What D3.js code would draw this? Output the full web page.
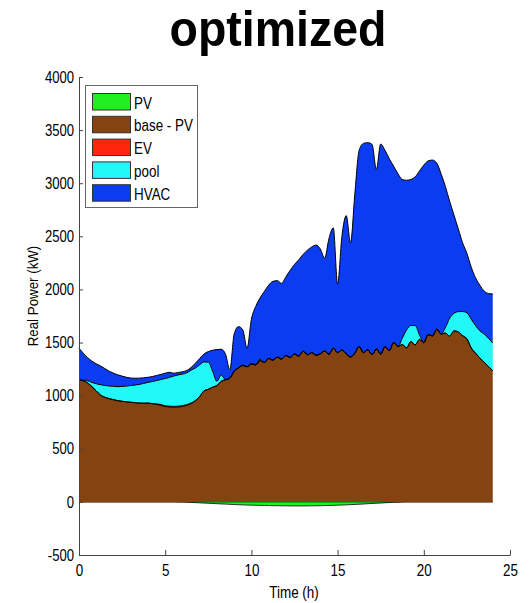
<!doctype html>
<html>
<head>
<meta charset="utf-8">
<script src="https://d3js.org/d3.v7.min.js"></script>
<style>
    body { margin: 0; background: #fff; }
    svg text { font-family: "Liberation Sans", Arial, Helvetica, sans-serif; }
</style>
</head>
<body>
<svg width="529" height="603"></svg>
<script>

    // time of day (h)
    var hours = [
        0, 0.25, 0.5, 0.75, 1, 1.25, 1.5, 1.75,
        2, 2.25, 2.5, 2.75, 3, 3.25, 3.5, 3.75,
        4, 4.25, 4.5, 4.75, 5, 5.25, 5.5, 5.75,
        6, 6.25, 6.5, 6.75, 7, 7.25, 7.5, 7.75,
        8, 8.25, 8.5, 8.75, 9, 9.25, 9.5, 9.75,
        10, 10.25, 10.5, 10.75, 11, 11.25, 11.5, 11.75,
        12, 12.25, 12.5, 12.75, 13, 13.25, 13.5, 13.75,
        14, 14.25, 14.5, 14.75, 15, 15.25, 15.5, 15.75,
        16, 16.25, 16.5, 16.75, 17, 17.25, 17.5, 17.75,
        18, 18.25, 18.5, 18.75, 19, 19.25, 19.5, 19.75,
        20, 20.25, 20.5, 20.75, 21, 21.25, 21.5, 21.75,
        22, 22.25, 22.5, 22.75, 23, 23.25, 23.5, 23.75,
        24];

    // kW per layer
    var pv = [
        0, 0, 0, 0, 0, 0, 0, 0,
        0, 0, 0, 0, 0, 0, 0, 0,
        0, 0, 0, 0, 0, 0, 0, -1,
        -2, -3, -5, -7, -9, -11, -13, -15,
        -17, -19, -21, -23, -25, -27, -28, -30,
        -31, -32, -33, -34, -35, -36, -36, -37,
        -37, -38, -38, -38, -38, -38, -37, -37,
        -36, -35, -34, -33, -31, -30, -28, -26,
        -24, -22, -20, -17, -15, -13, -11, -8,
        -6, -4, -3, -1, 0, 0, 0, 0,
        0, 0, 0, 0, 0, 0, 0, 0,
        0, 0, 0, 0, 0, 0, 0, 0,
        0];

    var basePV = [
        1148, 1140, 1120, 1085, 1045, 1005, 985, 972,
        962, 953, 947, 942, 938, 934, 930, 929,
        930, 925, 918, 908, 897, 893, 891, 893,
        898, 908, 925, 950, 990, 1045, 1060, 1080,
        1095, 1135, 1150, 1165, 1230, 1262, 1285, 1272,
        1300, 1290, 1330, 1312, 1350, 1335, 1362, 1345,
        1378, 1360, 1392, 1372, 1420, 1385, 1405, 1380,
        1395, 1420, 1390, 1446, 1405, 1430, 1395, 1365,
        1400, 1462, 1405, 1432, 1385, 1440, 1392, 1462,
        1425, 1500, 1462, 1482, 1450, 1510, 1478, 1530,
        1500, 1575, 1562, 1625, 1580, 1590, 1560, 1610,
        1600, 1565, 1535, 1450, 1400, 1355, 1315, 1275,
        1235];

    var ev = [
        0, 0, 0, 0, 0, 0, 0, 0,
        0, 0, 0, 0, 0, 0, 0, 0,
        0, 0, 5, 8, 8, 8, 8, 8,
        8, 8, 6, 5, 3, 0, 0, 0,
        0, 0, 0, 0, 0, 0, 0, 0,
        0, 0, 0, 0, 0, 0, 0, 0,
        0, 0, 0, 0, 0, 0, 0, 0,
        0, 0, 0, 0, 0, 0, 0, 0,
        0, 0, 0, 0, 0, 0, 0, 0,
        0, 0, 0, 0, 0, 0, 0, 0,
        0, 0, 0, 0, 0, 0, 0, 0,
        0, 0, 0, 0, 0, 0, 0, 0,
        0];

    var pool = [
        0, 6, 20, 40, 67, 98, 111, 119,
        126, 132, 140, 148, 157, 166, 176, 186,
        195, 208, 219, 236, 257, 271, 286, 294,
        297, 299, 309, 305, 297, 273, 255, 150,
        40, 60, 0, 0, 0, 0, 0, 0,
        0, 0, 15, 0, 0, 0, 0, 0,
        0, 0, 0, 0, 0, 0, 0, 0,
        0, 0, 0, 0, 0, 0, 0, 0,
        0, 0, 0, 0, 0, 0, 0, 0,
        0, 0, 0, 58, 169, 150, 182, 42,
        0, 0, 0, 0, 0, 50, 169, 165,
        191, 227, 245, 270, 260, 255, 265, 265,
        260];

    var hvac = [
        298, 254, 218, 200, 188, 177, 159, 139,
        124, 111, 97, 83, 71, 64, 59, 53,
        48, 47, 48, 48, 50, 48, 26, 23,
        22, 22, 25, 45, 60, 74, 100, 198,
        299, 242, 240, 77, 350, 388, 335, 174,
        420, 550, 575, 668, 690, 741, 721, 713,
        742, 820, 843, 908, 910, 985, 995, 1038,
        985, 874, 1090, 1134, 645, 1070, 1300, 1075,
        1500, 1848, 1970, 1950, 1980, 1690, 1977, 1848,
        1805, 1660, 1628, 1495, 1409, 1375, 1400, 1543,
        1670, 1635, 1656, 1565, 1510, 1330, 1101, 925,
        779, 648, 560, 490, 450, 430, 405, 422,
        463];

    var legendNames = ["PV", "base - PV", "EV", "pool", "HVAC"];
    var colors = ["#20ee20", "#844311", "#ff260a", "#22f8f8", "#0b3cf2"];
    var yTicks = [-500, 0, 500, 1000, 1500, 2000, 2500, 3000, 3500, 4000];
    var xTicks = [0, 5, 10, 15, 20, 25];

    var svg = d3.select("svg");

    var x = d3.scaleLinear().domain([0, 25]).range([79, 510]),
        y = d3.scaleLinear().domain([-500, 4000]).range([555, 77]);

    var rows = hours.map(function(t, i) {
        return {t: t, pv: pv[i], base: basePV[i], ev: ev[i], pool: pool[i], hvac: hvac[i]};
    });

    var stack = d3.stack().keys(["base", "ev", "pool", "hvac"]);
    var layers = stack(rows);

    var area = d3.area()
        .curve(d3.curveMonotoneX)
        .x(function(d) { return x(d.data.t); })
        .y0(function(d) { return y(d[0]); })
        .y1(function(d) { return y(d[1]); });

    var topLine = d3.line()
        .curve(d3.curveMonotoneX)
        .x(function(d) { return x(d.data.t); })
        .y(function(d) { return y(d[1]); });

    // PV below zero
    var pvArea = d3.area()
        .curve(d3.curveMonotoneX)
        .x(function(d) { return x(d.t); })
        .y0(y(0))
        .y1(function(d) { return y(d.pv); });

    svg.append("path")
       .datum(rows)
       .attr("d", pvArea)
       .attr("fill", colors[0])
       .attr("stroke", "#000")
       .attr("stroke-width", 0.8);

    svg.selectAll(".layer")
       .data(layers)
       .enter().append("path")
       .attr("class", "layer")
       .attr("d", area)
       .attr("fill", function(d, i) { return colors[i + 1]; });

    svg.selectAll(".edge")
       .data(layers)
       .enter().append("path")
       .attr("class", "edge")
       .attr("d", topLine)
       .attr("fill", "none")
       .attr("stroke", "#000")
       .attr("stroke-width", 1);

    // axes
    var plain = function(d) { return String(d); };

    var yAxis = svg.append("g")
        .attr("transform", "translate(79,0)")
        .call(d3.axisLeft(y).tickValues(yTicks).tickFormat(plain)
              .tickSizeInner(-4).tickSizeOuter(0).tickPadding(5));

    var xAxis = svg.append("g")
        .attr("transform", "translate(0,555)")
        .call(d3.axisBottom(x).tickValues(xTicks).tickFormat(plain)
              .tickSizeInner(-5).tickSizeOuter(0).tickPadding(10));

    [yAxis, xAxis].forEach(function(g) {
        g.select(".domain").attr("stroke", "#444");
        g.selectAll(".tick line").attr("stroke", "#444");
        g.selectAll(".tick text")
         .attr("font-size", 16)
         .attr("font-family", "Liberation Sans, Arial, sans-serif")
         .attr("fill", "#000");
    });
    yAxis.selectAll(".tick text").attr("transform", "scale(0.82,1)").attr("x", -6);
    xAxis.selectAll(".tick text").attr("transform", "scale(0.84,1)").attr("dy", "0.71em").attr("y", 10);

    // titles
    svg.append("text")
       .attr("transform", "translate(278,46) scale(0.93,1)")
       .attr("text-anchor", "middle")
       .attr("font-size", 50)
       .attr("font-weight", "bold")
       .text("optimized");

    svg.append("text")
       .attr("transform", "translate(294,598) scale(0.84,1)")
       .attr("text-anchor", "middle")
       .attr("font-size", 16)
       .text("Time (h)");

    svg.append("text")
       .attr("transform", "translate(38,296) rotate(-90) scale(0.86,1)")
       .attr("text-anchor", "middle")
       .attr("font-size", 15.5)
       .text("Real Power (kW)");

    // legend
    var legend = svg.append("g");
    legend.append("rect")
          .attr("x", 85.5).attr("y", 85.5)
          .attr("width", 112).attr("height", 122)
          .attr("fill", "#fff")
          .attr("stroke", "#666");

    var item = legend.selectAll(".item")
        .data(legendNames)
        .enter().append("g")
        .attr("class", "item")
        .attr("transform", function(d, i) { return "translate(0," + (102 + i * 22.8) + ")"; });

    item.append("rect")
        .attr("x", 92.5).attr("y", -8.5)
        .attr("width", 38).attr("height", 16.5)
        .attr("fill", function(d, i) { return colors[i]; })
        .attr("stroke", "#333");

    item.append("text")
        .attr("transform", "translate(134,6.5) scale(0.84,1)")
        .attr("font-size", 16)
        .text(function(d) { return d; });

</script>
</body>
</html>
